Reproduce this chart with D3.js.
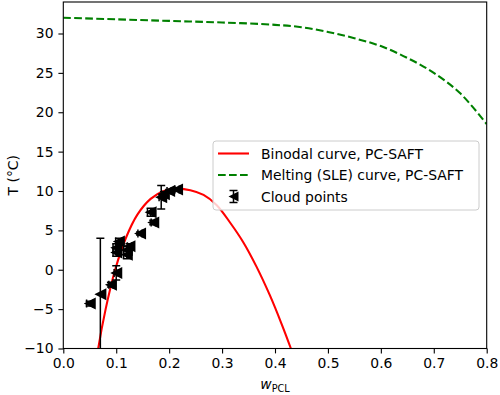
<!DOCTYPE html>
<html>
<head>
<meta charset="utf-8">
<script src="https://cdn.jsdelivr.net/npm/d3@7"></script>
<style>
body { margin: 0; background: #fff; }
text { font-family: "DejaVu Sans", sans-serif; }
</style>
</head>
<body>
<svg id="chart" width="500" height="395"></svg>
<script>
// binodal curve (PC-SAFT)
var binodalW = [0.062, 0.066, 0.080, 0.098, 0.118, 0.140, 0.165, 0.190, 0.215, 0.240, 0.265, 0.290, 0.315, 0.340, 0.365, 0.390, 0.412, 0.430, 0.440];
var binodalT = [-12.0, -10.0, -5.0, 0.0, 4.0, 7.0, 9.0, 10.0, 10.3, 10.1, 9.5, 8.2, 6.0, 3.5, 0.4, -3.2, -6.8, -10.0, -11.9];

// melting (SLE) curve
var meltW = [0.0, 0.1, 0.2, 0.3, 0.4, 0.45, 0.5, 0.55, 0.6, 0.65, 0.7, 0.75, 0.8];
var meltT = [32.0, 31.8, 31.6, 31.4, 31.1, 30.8, 30.2, 29.4, 28.4, 26.9, 25.0, 22.4, 18.5];

// cloud points
var cloudW = [0.050, 0.070, 0.090, 0.100, 0.100, 0.100, 0.105, 0.120, 0.120, 0.125, 0.145, 0.165, 0.170, 0.185, 0.190, 0.200, 0.215];
var cloudT = [-4.3, -3.1, -1.9, -0.4, 2.2, 2.8, 3.6, 1.9, 2.5, 3.0, 4.6, 7.3, 6.0, 9.2, 9.6, 10.0, 10.2];
var cloudTerr = [0.3, 7.1, 0.3, 0.9, 0.5, 0.5, 0.4, 0.5, 0.5, 0.3, 0.2, 0.5, 0.3, 1.5, 0.3, 0.2, 0.2];
var cloudWerr = [0.006, 0.0, 0.004, 0.004, 0.006, 0.006, 0.006, 0.006, 0.006, 0.004, 0.004, 0.006, 0.004, 0.004, 0.004, 0.004, 0.004];

var xTicks = [0, 0.1, 0.2, 0.3, 0.4, 0.5, 0.6, 0.7, 0.8];
var yTicks = [-10, -5, 0, 5, 10, 15, 20, 25, 30];

var mLeft = 63.3, mRight = 486.7, mTop = 2, mBottom = 348.5;

var svg = d3.select("#chart");

var x = d3.scaleLinear().domain([0, 0.8]).range([mLeft, mRight]);
var y = d3.scaleLinear().domain([-10, 34]).range([mBottom, mTop]);

svg.append("defs").append("clipPath").attr("id", "clip")
  .append("rect")
    .attr("x", mLeft).attr("y", mTop)
    .attr("width", mRight - mLeft).attr("height", mBottom - mTop);

var plot = svg.append("g").attr("clip-path", "url(#clip)");

var line = d3.line()
  .x(function(d) { return x(d[0]); })
  .y(function(d) { return y(d[1]); })
  .curve(d3.curveCatmullRom.alpha(0.5));

plot.append("path")
  .datum(d3.zip(binodalW, binodalT))
  .attr("d", line)
  .attr("fill", "none")
  .attr("stroke", "red")
  .attr("stroke-width", 2.1);

plot.append("path")
  .datum(d3.zip(meltW, meltT))
  .attr("d", line)
  .attr("fill", "none")
  .attr("stroke", "green")
  .attr("stroke-width", 2.1)
  .attr("stroke-dasharray", "7.7,3.3");

// cloud points with error bars
var pts = cloudW.map(function(w, i) {
  return { w: w, t: cloudT[i], te: cloudTerr[i], we: cloudWerr[i] };
});

var cap = 4;
var eb = plot.append("g").attr("stroke", "black").attr("stroke-width", 1.5);
pts.forEach(function(p) {
  if (p.te > 0) {
    eb.append("line")
      .attr("x1", x(p.w)).attr("x2", x(p.w))
      .attr("y1", y(p.t - p.te)).attr("y2", y(p.t + p.te));
    [p.t - p.te, p.t + p.te].forEach(function(v) {
      eb.append("line")
        .attr("x1", x(p.w) - cap).attr("x2", x(p.w) + cap)
        .attr("y1", y(v)).attr("y2", y(v));
    });
  }
  if (p.we > 0) {
    eb.append("line")
      .attr("x1", x(p.w - p.we)).attr("x2", x(p.w + p.we))
      .attr("y1", y(p.t)).attr("y2", y(p.t));
    [p.w - p.we, p.w + p.we].forEach(function(v) {
      eb.append("line")
        .attr("x1", x(v)).attr("x2", x(v))
        .attr("y1", y(p.t) - cap).attr("y2", y(p.t) + cap);
    });
  }
});

var ms = 6;
function triLeft(cx, cy) {
  return "M" + (cx - ms) + "," + cy + "L" + (cx + ms) + "," + (cy - ms) + "L" + (cx + ms) + "," + (cy + ms) + "Z";
}

plot.selectAll(".pt")
  .data(pts)
  .enter().append("path")
    .attr("class", "pt")
    .attr("d", function(d) { return triLeft(x(d.w), y(d.t)); })
    .attr("fill", "black");

// axes
var xAxis = d3.axisBottom(x).tickValues(xTicks).tickFormat(d3.format(".1f"))
  .tickSize(4.9).tickPadding(4.9);
var yAxis = d3.axisLeft(y).tickValues(yTicks).tickSize(4.9).tickPadding(4.9);

var gx = svg.append("g").attr("transform", "translate(0," + mBottom + ")").call(xAxis);
var gy = svg.append("g").attr("transform", "translate(" + mLeft + ",0)").call(yAxis);
[gx, gy].forEach(function(g) {
  g.select(".domain").remove();
  g.selectAll("line").attr("stroke", "black").attr("stroke-width", 1.1);
  g.selectAll("text").attr("font-size", 13.9).attr("fill", "black")
    .style("font-family", "DejaVu Sans, sans-serif");
});

svg.append("rect")
  .attr("x", mLeft).attr("y", mTop)
  .attr("width", mRight - mLeft).attr("height", mBottom - mTop)
  .attr("fill", "none").attr("stroke", "black").attr("stroke-width", 1.1);

// axis labels
svg.append("text")
  .attr("transform", "translate(18," + ((mTop + mBottom) / 2) + ") rotate(-90)")
  .attr("text-anchor", "middle")
  .attr("font-size", 13.9)
  .text("T (°C)");

var xl = svg.append("text")
  .attr("x", (mLeft + mRight) / 2)
  .attr("y", 389)
  .attr("text-anchor", "middle")
  .attr("font-size", 13.9);
xl.append("tspan").attr("font-style", "italic").text("w");
xl.append("tspan").attr("font-size", 9.7).attr("dy", 3).text("PCL");

// legend
var lg = svg.append("g").attr("transform", "translate(213,141)");
lg.append("rect")
  .attr("width", 266).attr("height", 69)
  .attr("rx", 3)
  .attr("fill", "white").attr("fill-opacity", 0.8)
  .attr("stroke", "#cccccc").attr("stroke-width", 1);

var legendItems = ["Binodal curve, PC-SAFT", "Melting (SLE) curve, PC-SAFT", "Cloud points"];
var rowY = [12.5, 34, 55.5];

lg.append("line").attr("x1", 5).attr("x2", 36).attr("y1", rowY[0]).attr("y2", rowY[0])
  .attr("stroke", "red").attr("stroke-width", 2.1);
lg.append("line").attr("x1", 5).attr("x2", 36).attr("y1", rowY[1]).attr("y2", rowY[1])
  .attr("stroke", "green").attr("stroke-width", 2.1).attr("stroke-dasharray", "7.7,3.3");
var lgEb = lg.append("g").attr("stroke", "black").attr("stroke-width", 1.5);
lgEb.append("line").attr("x1", 20.5).attr("x2", 20.5).attr("y1", rowY[2] - 6).attr("y2", rowY[2] + 6);
lgEb.append("line").attr("x1", 16.5).attr("x2", 24.5).attr("y1", rowY[2] - 6).attr("y2", rowY[2] - 6);
lgEb.append("line").attr("x1", 16.5).attr("x2", 24.5).attr("y1", rowY[2] + 6).attr("y2", rowY[2] + 6);
var lgMs = ms;
ms = 5;
lg.append("path").attr("d", triLeft(20.5, rowY[2])).attr("fill", "black");
ms = lgMs;

lg.selectAll(".lt")
  .data(legendItems)
  .enter().append("text")
    .attr("class", "lt")
    .attr("x", 48)
    .attr("y", function(d, i) { return rowY[i] + 5; })
    .attr("font-size", 13.9)
    .text(function(d) { return d; });
</script>
</body>
</html>
